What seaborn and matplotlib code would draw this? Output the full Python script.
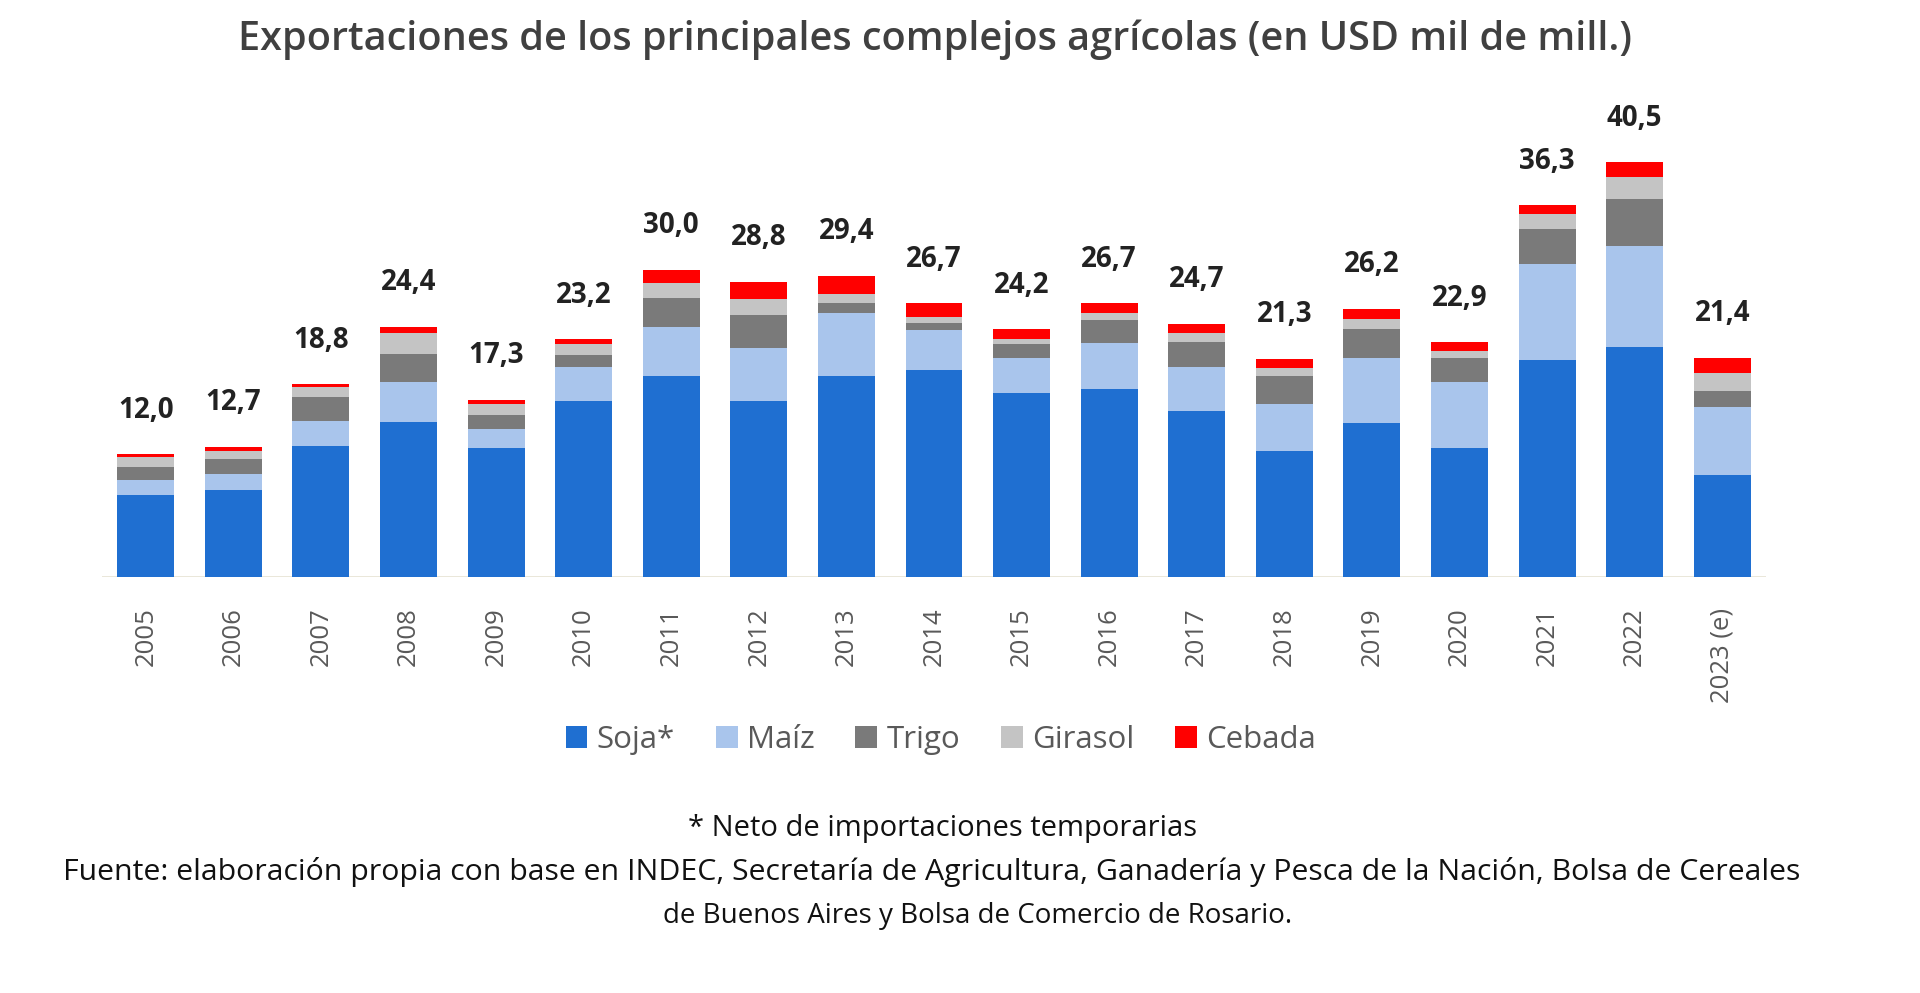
import matplotlib
matplotlib.use("Agg")
import matplotlib.pyplot as plt
import seaborn as sns
import pandas as pd
import numpy as np
from matplotlib.patches import Patch

years = ["2005", "2006", "2007", "2008", "2009", "2010", "2011", "2012", "2013", "2014",
         "2015", "2016", "2017", "2018", "2019", "2020", "2021", "2022", "2023 (e)"]
soja    = [8.0, 8.5, 12.8, 15.1, 12.6, 17.2, 19.6, 17.2, 19.6, 20.2, 18.0, 18.4, 16.2, 12.3, 15.0, 12.6, 21.2, 22.5, 10.0]
maiz    = [1.5, 1.6, 2.4, 3.9, 1.8, 3.3, 4.8, 5.2, 6.2, 3.9, 3.4, 4.4, 4.3, 4.6, 6.4, 6.4, 9.4, 9.8, 6.6]
trigo   = [1.2, 1.4, 2.4, 2.8, 1.4, 1.2, 2.8, 3.2, 0.9, 0.7, 1.3, 2.3, 2.4, 2.7, 2.8, 2.4, 3.4, 4.6, 1.6]
girasol = [1.0, 0.8, 0.9, 2.0, 1.1, 1.0, 1.5, 1.5, 0.9, 0.6, 0.5, 0.7, 0.9, 0.8, 1.0, 0.7, 1.4, 2.1, 1.7]
cebada  = [0.3, 0.4, 0.3, 0.6, 0.4, 0.5, 1.3, 1.7, 1.8, 1.3, 1.0, 0.9, 0.9, 0.9, 1.0, 0.8, 0.9, 1.5, 1.5]
totals  = [12.0, 12.7, 18.8, 24.4, 17.3, 23.2, 30.0, 28.8, 29.4, 26.7, 24.2, 26.7, 24.7, 21.3, 26.2, 22.9, 36.3, 40.5, 21.4]
total_labels = ["12,0", "12,7", "18,8", "24,4", "17,3", "23,2", "30,0", "28,8", "29,4", "26,7",
                "24,2", "26,7", "24,7", "21,3", "26,2", "22,9", "36,3", "40,5", "21,4"]

series_names = ["Soja*", "Maíz", "Trigo", "Girasol", "Cebada"]
colors = ["#1F6FD1", "#A9C5EC", "#7A7A7A", "#C4C4C4", "#FF0000"]

df = pd.DataFrame({"year": years, "Soja*": soja, "Maíz": maiz, "Trigo": trigo,
                   "Girasol": girasol, "Cebada": cebada})
cum = df[series_names].cumsum(axis=1)

sns.set_theme(style="white")
plt.rcParams["font.family"] = ["Open Sans", "DejaVu Sans"]

fig = plt.figure(figsize=(19.2, 9.93), dpi=100)
ax = fig.add_axes([102 / 1920, 1 - 577 / 993, (1766 - 102) / 1920, (577 - 116) / 993])

# stacked bars: draw cumulative heights from top series down
for name, col in reversed(list(zip(series_names, colors))):
    sns.barplot(x=df["year"], y=cum[name], color=col, width=0.65, ax=ax,
                saturation=1, linewidth=0, order=years)

ax.set_ylim(0, 45)
ax.set_xlim(-0.5, len(years) - 0.5)
ax.set_xlabel("")
ax.set_ylabel("")
ax.set_yticks([])
for s in ax.spines.values():
    s.set_visible(False)
ax.axhline(0, color="#E6E3D3", lw=1.2, zorder=0)

ax.tick_params(axis="x", length=0, pad=22)
for lbl in ax.get_xticklabels():
    lbl.set_rotation(90)
    lbl.set_fontsize(18.5)
    lbl.set_color("#595959")
    lbl.set_va("top")
    lbl.set_ha("center")

for i, (t, lab) in enumerate(zip(totals, total_labels)):
    ax.text(i, t + 4.3, lab, ha="center", va="center", fontsize=20,
            fontweight="bold", color="#222222")

fig.text(0.487, 0.960, "Exportaciones de los principales complejos agrícolas (en USD mil de mill.)",
         ha="center", va="center", fontsize=28.5, fontweight="semibold", color="#404040")

handles = [Patch(facecolor=c, edgecolor="none", label=n) for n, c in zip(series_names, colors)]
fig.legend(handles=handles, loc="center", bbox_to_anchor=(0.49, 0.255), ncol=5,
           frameon=False, fontsize=22.5, handlelength=0.7, handleheight=0.7,
           handletextpad=0.3, columnspacing=1.3, labelcolor="#595959")

fig.text(0.491, 0.166, "* Neto de importaciones temporarias", ha="center", va="center",
         fontsize=21, color="#111111")
fig.text(0.485, 0.122, "Fuente: elaboración propia con base en INDEC, Secretaría de Agricultura, Ganadería y Pesca de la Nación, Bolsa de Cereales",
         ha="center", va="center", fontsize=21.8, color="#111111")
fig.text(0.509, 0.078, "de Buenos Aires y Bolsa de Comercio de Rosario.", ha="center", va="center",
         fontsize=20, color="#111111")

fig.savefig("out.png", dpi=100, facecolor="white")
